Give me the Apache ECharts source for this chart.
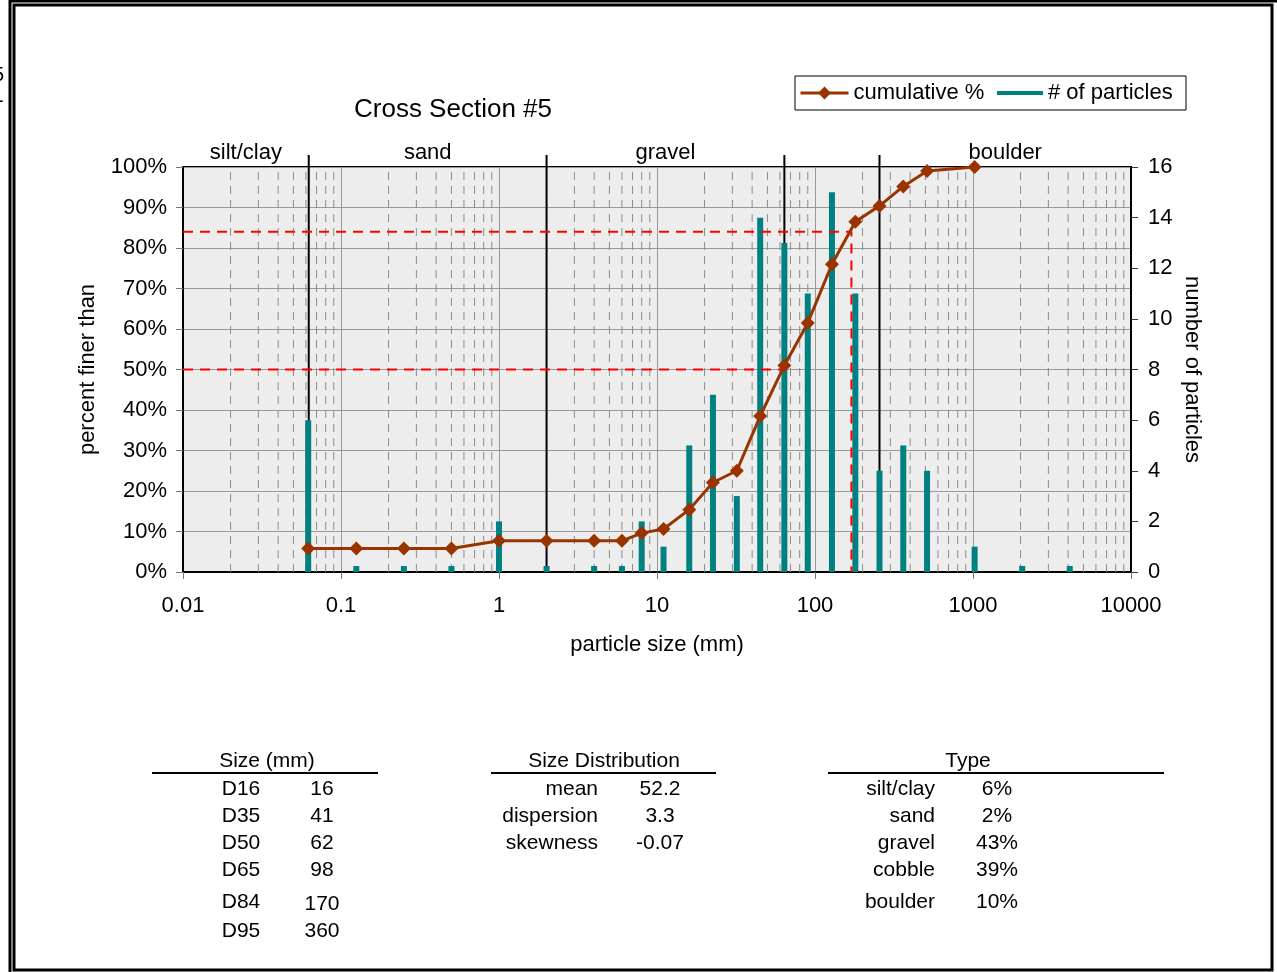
<!DOCTYPE html>
<html>
<head>
<meta charset="utf-8">
<script src="https://cdn.jsdelivr.net/npm/echarts@6/dist/echarts.min.js"></script>
<style>
html, body { margin: 0; padding: 0; background: #fff; }
#chart { width: 1277px; height: 972px; }
</style>
</head>
<body>
<div id="chart"></div>
<script>
// sieve classes (mm) and particle counts per class
const sizeClasses = [0.062, 0.125, 0.25, 0.5, 1, 2, 4, 6, 8, 11, 16, 22.6, 32, 45, 64, 90, 128, 180, 256, 362, 512, 1024, 2048, 4096];
const particleCounts = [6, 0, 0, 0, 2, 0, 0, 0, 2, 1, 5, 7, 3, 14, 13, 11, 15, 11, 4, 5, 4, 1, 0, 0];

// cumulative percent finer
const cumSizes = [0.062, 0.125, 0.25, 0.5, 1, 2, 4, 6, 8, 11, 16, 22.6, 32, 45, 64, 90, 128, 180, 256, 362, 512, 1024];
const cumPercent = [5.8, 5.8, 5.8, 5.8, 7.7, 7.7, 7.7, 7.7, 9.6, 10.6, 15.4, 22.1, 25, 38.5, 51, 61.5, 76, 86.5, 90.4, 95.2, 99, 100];

// D50 / D84 guide lines
const d50 = 62;
const d84 = 170;

// size zones
const zoneBounds = [0.0625, 2, 64, 256];
const zoneNames = ['silt/clay', 'sand', 'gravel', 'boulder'];
const zoneNameAt = [0.025, 0.354, 11.3, 1600];

// minor log gridlines
const minorGrid = [];
for (let e = -2; e <= 3; e++) {
    for (let m = 2; m <= 9; m++) minorGrid.push(+(m * Math.pow(10, e)).toPrecision(3));
}

// summary tables
const sizeLabels = ['D16', 'D35', 'D50', 'D65', 'D84', 'D95'];
const sizeValues = ['16', '41', '62', '98', '170', '360'];
const distLabels = ['mean', 'dispersion', 'skewness'];
const distValues = ['52.2', '3.3', '-0.07'];
const typeLabels = ['silt/clay', 'sand', 'gravel', 'cobble', 'boulder'];
const typeValues = ['6%', '2%', '43%', '39%', '10%'];

const FONT = 'Liberation Sans, Arial, sans-serif';
const rowY = [789, 816, 843, 870, 902, 931];

const chart = echarts.init(document.getElementById('chart'));

function txt(text, x, y, align) {
    return {
        type: 'text', x: x, y: y,
        style: { text: text, fontSize: 21, fontFamily: FONT, fill: '#000', align: align || 'center', verticalAlign: 'middle' }
    };
}

const graphics = [];
// outer frame
graphics.push({ type: 'polyline', shape: { points: [[10, 972], [10, 1], [1277, 1]] }, style: { stroke: '#000', lineWidth: 3, fill: null } });
graphics.push({ type: 'rect', shape: { x: 14, y: 5, width: 1258, height: 965 }, style: { stroke: '#000', lineWidth: 3, fill: null } });
// clipped text bits at top left edge
graphics.push({ type: 'text', x: -7, y: 75, style: { text: '5', fontSize: 20, fontFamily: FONT, fill: '#000', verticalAlign: 'middle' } });
graphics.push({ type: 'text', x: -3, y: 101, style: { text: '-', fontSize: 20, fontFamily: FONT, fill: '#000', verticalAlign: 'middle' } });
// legend border
graphics.push({ type: 'rect', shape: { x: 795, y: 76, width: 391, height: 34 }, style: { stroke: '#000', lineWidth: 1, fill: '#fff' }, z: -1 });

// table 1
graphics.push(txt('Size (mm)', 267, 761));
graphics.push({ type: 'line', shape: { x1: 152, y1: 773, x2: 378, y2: 773 }, style: { stroke: '#000', lineWidth: 2 } });
sizeLabels.forEach((s, i) => {
    graphics.push(txt(s, 241, rowY[i]));
    graphics.push(txt(sizeValues[i], 322, rowY[i] + (i === 4 ? 2 : 0)));
});
// table 2
graphics.push(txt('Size Distribution', 604, 761));
graphics.push({ type: 'line', shape: { x1: 491, y1: 773, x2: 716, y2: 773 }, style: { stroke: '#000', lineWidth: 2 } });
distLabels.forEach((s, i) => {
    graphics.push(txt(s, 598, rowY[i], 'right'));
    graphics.push(txt(distValues[i], 660, rowY[i]));
});
// table 3
graphics.push(txt('Type', 968, 761));
graphics.push({ type: 'line', shape: { x1: 828, y1: 773, x2: 1164, y2: 773 }, style: { stroke: '#000', lineWidth: 2 } });
typeLabels.forEach((s, i) => {
    graphics.push(txt(s, 935, rowY[i], 'right'));
    graphics.push(txt(typeValues[i], 997, rowY[i]));
});

const option = {
    animation: false,
    textStyle: { fontFamily: FONT },
    title: {
        text: 'Cross Section #5',
        left: 349,
        top: 92,
        textStyle: { fontSize: 26, fontWeight: 'normal', color: '#000', fontFamily: FONT }
    },
    legend: [{
        data: ['cumulative %'],
        left: 799,
        top: 82,
        padding: 0,
        itemWidth: 48,
        itemHeight: 16,
        lineStyle: { width: 3 },
        textStyle: { fontSize: 22, color: '#000', fontFamily: FONT }
    }, {
        data: [{ name: '# of particles', icon: 'rect' }],
        left: 997,
        top: 82,
        padding: 0,
        itemWidth: 46,
        itemHeight: 4,
        textStyle: { fontSize: 22, color: '#000', fontFamily: FONT }
    }],
    grid: {
        left: 183,
        right: 146,
        top: 167,
        bottom: 400,
        show: true,
        backgroundColor: '#ededed',
        borderColor: '#000',
        borderWidth: 2
    },
    xAxis: {
        type: 'log',
        logBase: 10,
        min: 0.01,
        max: 10000,
        name: 'particle size (mm)',
        nameLocation: 'middle',
        nameGap: 62,
        nameMoveOverlap: false,
        nameTextStyle: { fontSize: 22, color: '#000', fontFamily: FONT },
        axisLine: { lineStyle: { color: '#000', width: 2 } },
        axisTick: { length: 7, lineStyle: { color: '#777', width: 1 } },
        axisLabel: {
            fontSize: 22, color: '#000', margin: 23, fontFamily: FONT,
            formatter: v => String(+(+v).toPrecision(6))
        },
        splitLine: { show: true, lineStyle: { color: '#999', width: 1 } }
    },
    yAxis: [{
        type: 'value',
        min: 0,
        max: 100,
        interval: 10,
        name: 'percent finer than',
        nameLocation: 'middle',
        nameGap: 84,
        nameMoveOverlap: false,
        nameTextStyle: { fontSize: 22, color: '#000', fontFamily: FONT },
        axisLine: { show: true, lineStyle: { color: '#000', width: 2 } },
        axisTick: { show: true, length: 7, lineStyle: { color: '#777' } },
        axisLabel: { fontSize: 22, color: '#000', margin: 16, formatter: '{value}%', fontFamily: FONT },
        splitLine: { show: true, lineStyle: { color: '#999', width: 1 } }
    }, {
        type: 'value',
        min: 0,
        max: 16,
        interval: 2,
        position: 'right',
        name: 'number of particles',
        nameLocation: 'middle',
        nameGap: 50,
        nameRotate: -90,
        nameMoveOverlap: false,
        nameTextStyle: { fontSize: 22, color: '#000', fontFamily: FONT },
        axisLine: { show: true, lineStyle: { color: '#000', width: 2 } },
        axisTick: { show: true, length: 7, lineStyle: { color: '#333' } },
        axisLabel: { fontSize: 22, color: '#000', margin: 17, fontFamily: FONT },
        splitLine: { show: false }
    }],
    series: [{
        name: 'minor',
        type: 'custom',
        silent: true,
        z: 1,
        data: minorGrid.map(v => [v, 0]),
        renderItem: (params, api) => {
            const x = api.value(0);
            const p0 = api.coord([x, 0]);
            const p1 = api.coord([x, 100]);
            return {
                type: 'line',
                shape: { x1: p0[0], y1: p0[1], x2: p1[0], y2: p1[1] },
                style: { stroke: '#8c8c8c', lineWidth: 1, lineDash: [8, 6] }
            };
        }
    }, {
        name: 'zones',
        type: 'custom',
        silent: true,
        z: 2,
        clip: false,
        data: zoneBounds.map(v => [v, 100]),
        renderItem: (params, api) => {
            const x = api.value(0);
            const p0 = api.coord([x, 0]);
            const p1 = api.coord([x, 100]);
            return {
                type: 'line',
                shape: { x1: p0[0], y1: p0[1], x2: p1[0], y2: p1[1] - 12 },
                style: { stroke: '#000', lineWidth: 2 }
            };
        }
    }, {
        name: 'zoneNames',
        type: 'custom',
        silent: true,
        z: 2,
        clip: false,
        data: zoneNameAt.map(v => [v, 100]),
        renderItem: (params, api) => {
            const p = api.coord([api.value(0), 100]);
            return {
                type: 'text',
                x: p[0],
                y: p[1] - 14,
                style: {
                    text: zoneNames[params.dataIndex],
                    fontSize: 22, fontFamily: FONT, fill: '#000',
                    align: 'center', verticalAlign: 'middle'
                }
            };
        }
    }, {
        name: '# of particles',
        type: 'bar',
        yAxisIndex: 1,
        z: 3,
        barWidth: 6,
        barMinHeight: 6,
        itemStyle: { color: '#008080' },
        data: sizeClasses.map((s, i) => [s, particleCounts[i]])
    }, {
        name: 'D84',
        type: 'line',
        silent: true,
        z: 4,
        symbol: 'none',
        lineStyle: { color: '#ff0000', width: 2, type: [10, 7] },
        data: [[0.01, 84], [d84, 84], [d84, 0]]
    }, {
        name: 'D50',
        type: 'line',
        silent: true,
        z: 4,
        symbol: 'none',
        lineStyle: { color: '#ff0000', width: 2, type: [10, 7] },
        data: [[0.01, 50], [d50, 50]]
    }, {
        name: 'cumulative %',
        type: 'line',
        z: 5,
        symbol: 'diamond',
        symbolSize: 14,
        color: '#993300',
        lineStyle: { color: '#993300', width: 3 },
        itemStyle: { color: '#993300' },
        data: cumSizes.map((s, i) => [s, cumPercent[i]])
    }],
    graphic: graphics
};

chart.setOption(option);
</script>
</body>
</html>
